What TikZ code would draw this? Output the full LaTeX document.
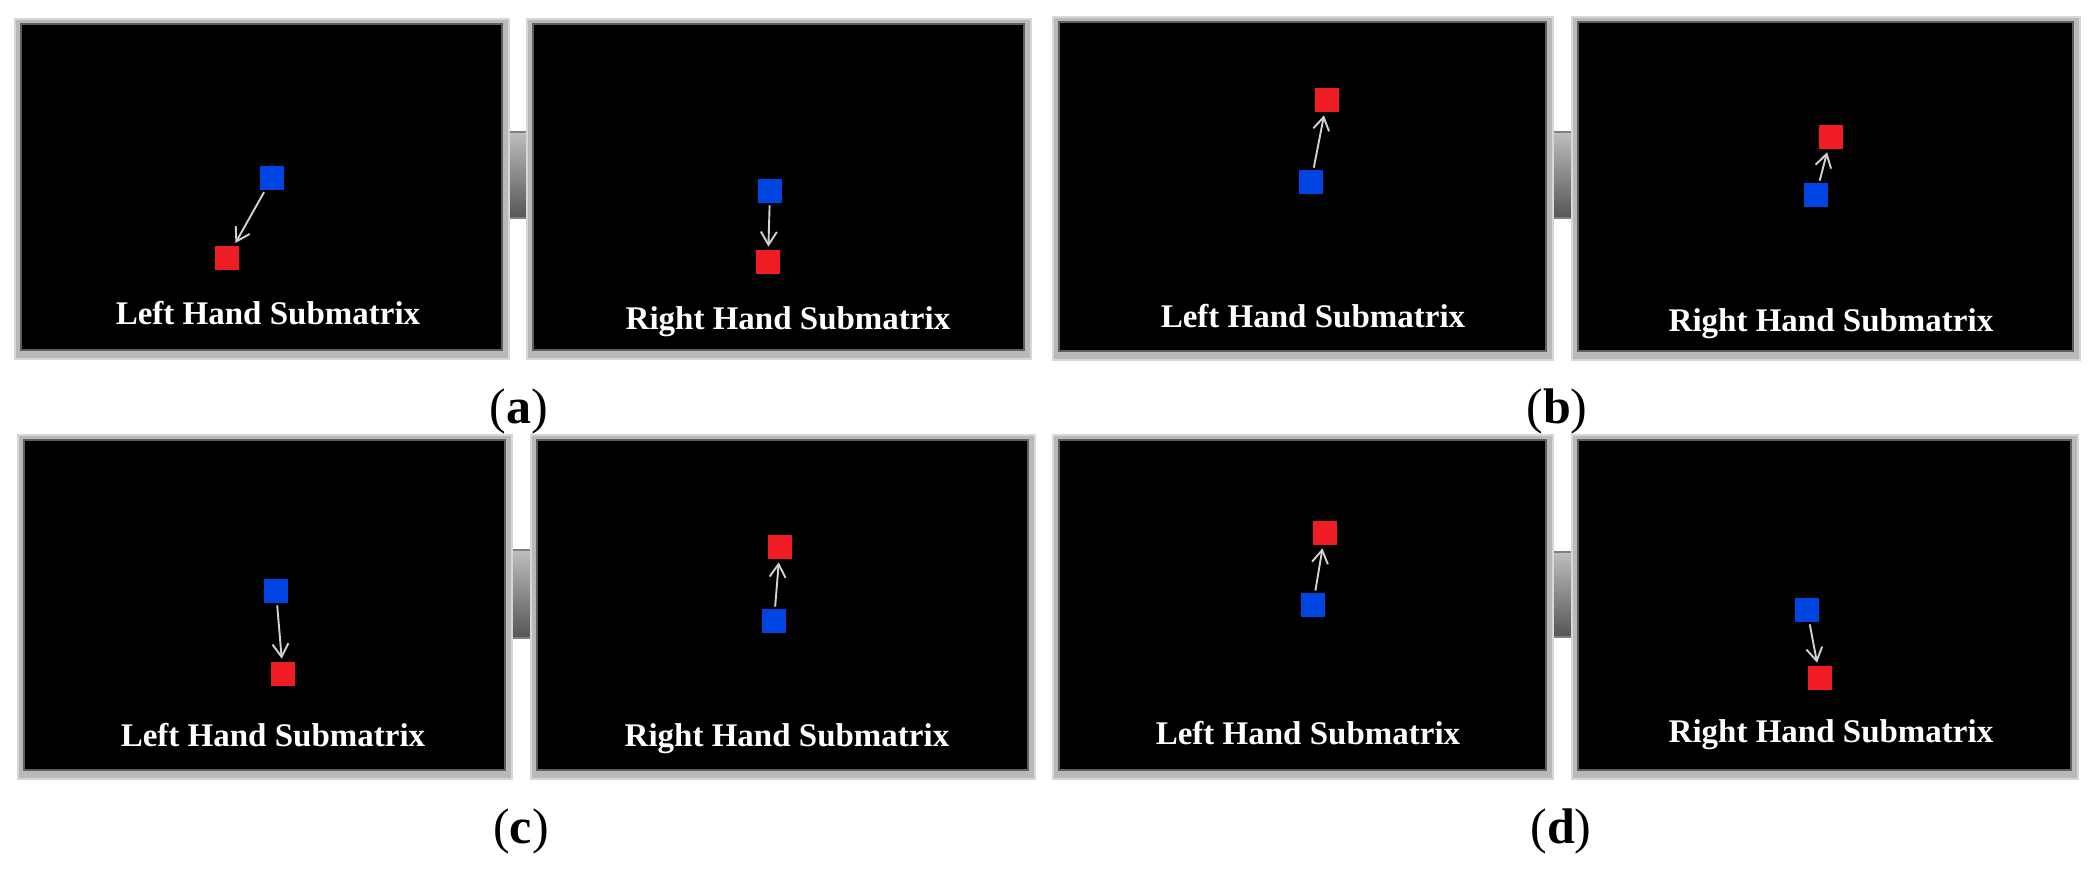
\documentclass[tikz,border=0pt]{standalone}
\usepackage{fontspec}
\setmainfont{Liberation Serif}
\usetikzlibrary{arrows.meta}
\definecolor{sqblue}{RGB}{0,68,226}
\definecolor{sqred}{RGB}{240,28,36}
\definecolor{arrgray}{RGB}{210,210,210}
\definecolor{framegray}{RGB}{185,185,185}
\definecolor{framelight}{RGB}{215,215,215}
\definecolor{framedark}{RGB}{95,95,95}
\definecolor{tabtop}{RGB}{190,190,190}
\definecolor{tabbot}{RGB}{85,85,85}
\tikzset{
  frameout/.style={fill=framegray, draw=framelight, line width=1pt},
  framein/.style={fill=black, draw=framedark, line width=1.2pt},
  tabbox/.style={top color=tabtop, bottom color=tabbot, draw=gray, line width=0.6pt},
  bsq/.style={fill=sqblue, draw=none, inner sep=0pt, minimum size=12pt},
  rsq/.style={fill=sqred, draw=none, inner sep=0pt, minimum size=12pt},
  arr/.style={draw=arrgray, line width=0.95pt, -{Straight Barb[length=6.5pt,width=8pt]}, shorten >=1.5pt, shorten <=1pt},
  lbl/.style={text=white, font=\bfseries\fontsize{16.5}{18}\selectfont, anchor=base, inner sep=0pt},
  captxt/.style={text=black, font=\fontsize{25}{28}\selectfont, anchor=base, inner sep=0pt}
}
\newcommand{\mkpanel}[4]{%
  \path[frameout] (#1,#2) rectangle (#3,#4);
  \path[framein] (#1+6,#2+5) rectangle (#3-7,#4-9);
}
\begin{document}
\begin{tikzpicture}[x=0.5pt,y=-0.5pt]
\useasboundingbox[fill=white] (0,0) rectangle (2090,870);
% tabs
\path[tabbox] (507,132) rectangle (529,218);
\path[tabbox] (1551,132) rectangle (1574,218);
\path[tabbox] (510,550) rectangle (533,638);
\path[tabbox] (1551,552) rectangle (1574,637);
% panels
\mkpanel{15}{19}{509}{359}
\mkpanel{527}{19}{1031}{359}
\mkpanel{1053}{17}{1553}{360}
\mkpanel{1572}{17}{2080}{360}
\mkpanel{18}{435}{512}{779}
\mkpanel{531}{435}{1035}{779}
\mkpanel{1053}{435}{1553}{779}
\mkpanel{1572}{435}{2078}{779}
% (a) left
\node[bsq] (ab1) at (272,178) {};
\node[rsq] (ar1) at (227,258) {};
\draw[arr] (ab1) -- (ar1);
% (a) right
\node[bsq] (ab2) at (770,191) {};
\node[rsq] (ar2) at (768,262) {};
\draw[arr] (ab2) -- (ar2);
% (b) left
\node[bsq] (bb1) at (1311,182) {};
\node[rsq] (br1) at (1327,100) {};
\draw[arr] (bb1) -- (br1);
% (b) right
\node[bsq] (bb2) at (1816,195) {};
\node[rsq] (br2) at (1831,137) {};
\draw[arr] (bb2) -- (br2);
% (c) left
\node[bsq] (cb1) at (276,591) {};
\node[rsq] (cr1) at (283,674) {};
\draw[arr] (cb1) -- (cr1);
% (c) right
\node[bsq] (cb2) at (774,621) {};
\node[rsq] (cr2) at (780,547) {};
\draw[arr] (cb2) -- (cr2);
% (d) left
\node[bsq] (db1) at (1313,605) {};
\node[rsq] (dr1) at (1325,533) {};
\draw[arr] (db1) -- (dr1);
% (d) right
\node[bsq] (db2) at (1807,610) {};
\node[rsq] (dr2) at (1820,678) {};
\draw[arr] (db2) -- (dr2);
% texts
\node[lbl] (ta1) at (268,325) {Left Hand Submatrix};
\node[lbl] (ta2) at (788,330) {Right Hand Submatrix};
\node[lbl] (tb1) at (1313,328) {Left Hand Submatrix};
\node[lbl] (tb2) at (1831,332) {Right Hand Submatrix};
\node[lbl] (tc1) at (273,747) {Left Hand Submatrix};
\node[lbl] (tc2) at (787,747) {Right Hand Submatrix};
\node[lbl] (td1) at (1308,745) {Left Hand Submatrix};
\node[lbl] (td2) at (1831,743) {Right Hand Submatrix};
% captions
\node[captxt] (ca) at (519,424) {(\textbf{a})};
\node[captxt] (cb) at (1557,424) {(\textbf{b})};
\node[captxt] (cc) at (521,844) {(\textbf{c})};
\node[captxt] (cd) at (1561,844) {(\textbf{d})};
\end{tikzpicture}
\end{document}
